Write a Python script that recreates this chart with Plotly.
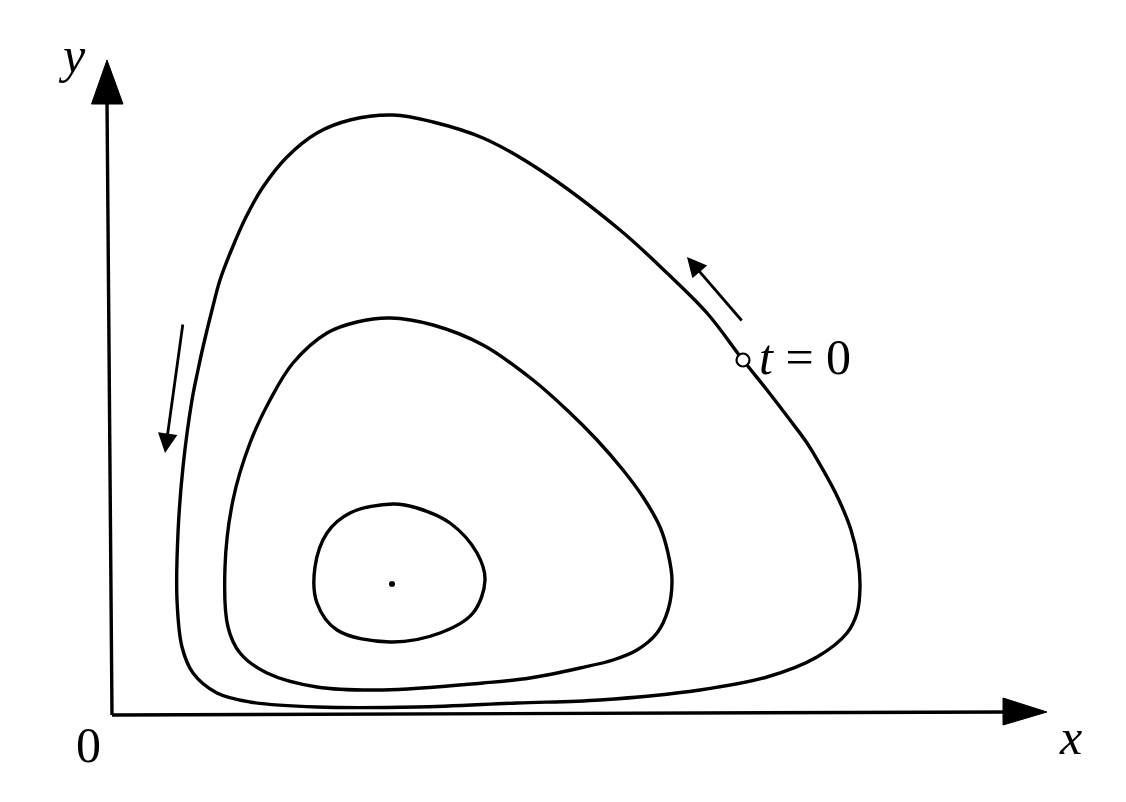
import plotly.graph_objects as go

# closed orbits (x, y in axis units, origin at 0)
outer_x = [3.05, 4.05, 4.88, 5.88, 6.55, 7.05, 7.35, 7.45, 7.48, 7.46, 7.39, 7.26, 7.10,
           6.95, 6.78, 6.55, 6.31, 5.95, 5.55, 5.08, 4.28, 3.71, 3.21, 2.81, 2.38, 2.05,
           1.75, 1.51, 1.34, 1.19, 1.08, 1.00, 0.91, 0.86, 0.80, 0.71, 0.66, 0.65, 0.70,
           0.81, 1.05, 1.38, 2.05, 3.05]
outer_y = [0.08, 0.12, 0.15, 0.25, 0.38, 0.58, 0.82, 1.02, 1.28, 1.55, 1.85, 2.17, 2.47,
           2.72, 2.95, 3.25, 3.55, 4.02, 4.42, 4.85, 5.45, 5.77, 5.93, 6.00, 5.95, 5.82,
           5.58, 5.28, 4.98, 4.64, 4.35, 4.05, 3.68, 3.45, 3.15, 2.48, 1.82, 1.15, 0.68,
           0.42, 0.22, 0.13, 0.08, 0.08]

middle_x = [2.71, 3.71, 4.18, 4.68, 5.01, 5.25, 5.45, 5.56, 5.60, 5.56, 5.48, 5.31, 5.11,
            4.85, 4.55, 4.21, 3.71, 3.21, 2.78, 2.45, 2.15, 1.81, 1.58, 1.38, 1.21, 1.13,
            1.16, 1.28, 1.55, 2.05, 2.71]
middle_y = [0.25, 0.32, 0.37, 0.47, 0.55, 0.65, 0.82, 1.05, 1.35, 1.62, 1.88, 2.18, 2.45,
            2.75, 3.05, 3.35, 3.70, 3.90, 3.97, 3.93, 3.82, 3.52, 3.15, 2.72, 2.15, 1.48,
            0.88, 0.62, 0.42, 0.28, 0.25]

inner_x = [2.78, 3.28, 3.61, 3.73, 3.65, 3.38, 3.05, 2.81, 2.38, 2.15, 2.03, 2.05, 2.25, 2.78]
inner_y = [0.73, 0.82, 1.02, 1.35, 1.62, 1.92, 2.07, 2.11, 2.02, 1.82, 1.48, 1.12, 0.85, 0.73]

equilibrium = (2.80, 1.31)
start_point = (6.31, 3.55)

# direction arrows: (tail, head)
flow_arrows = [((6.31, 3.93), (5.75, 4.58)),
               ((0.71, 3.92), (0.53, 2.62))]

x_axis_end = (9.35, 0.03)
y_axis_end = (-0.05, 6.55)

serif = "Liberation Serif, Times New Roman, serif"
black = "black"

fig = go.Figure()

for xs, ys in [(outer_x, outer_y), (middle_x, middle_y), (inner_x, inner_y)]:
    fig.add_trace(go.Scatter(x=xs, y=ys, mode="lines",
                             line=dict(color=black, width=3.4, shape="spline", smoothing=1.0),
                             hoverinfo="skip"))

# axes lines
fig.add_trace(go.Scatter(x=[0, x_axis_end[0] - 0.4], y=[0, x_axis_end[1]], mode="lines",
                         line=dict(color=black, width=3.4), hoverinfo="skip"))
fig.add_trace(go.Scatter(x=[0, y_axis_end[0]], y=[0, y_axis_end[1] - 0.4], mode="lines",
                         line=dict(color=black, width=3.4), hoverinfo="skip"))

# big filled arrowheads on the axes
hx, hy = x_axis_end
fig.add_trace(go.Scatter(x=[hx, hx - 0.44, hx - 0.44, hx], y=[hy, hy + 0.14, hy - 0.13, hy],
                         mode="lines", fill="toself", fillcolor=black,
                         line=dict(color=black, width=1), hoverinfo="skip"))
vx, vy = y_axis_end
fig.add_trace(go.Scatter(x=[vx, vx - 0.155, vx + 0.16, vx], y=[vy, vy - 0.44, vy - 0.44, vy],
                         mode="lines", fill="toself", fillcolor=black,
                         line=dict(color=black, width=1), hoverinfo="skip"))

# equilibrium dot and t=0 marker
fig.add_trace(go.Scatter(x=[equilibrium[0]], y=[equilibrium[1]], mode="markers",
                         marker=dict(color=black, size=6), hoverinfo="skip"))
fig.add_trace(go.Scatter(x=[start_point[0]], y=[start_point[1]], mode="markers",
                         marker=dict(color="white", size=13, line=dict(color=black, width=2.2)),
                         hoverinfo="skip"))

annotations = []
for (tx, ty), (ax_, ay_) in flow_arrows:
    annotations.append(dict(x=ax_, y=ay_, ax=tx, ay=ty, xref="x", yref="y",
                            axref="x", ayref="y", showarrow=True, text="",
                            arrowhead=2, arrowsize=1.4, arrowwidth=2.8, arrowcolor=black))

annotations += [
    dict(x=-0.40, y=6.60, text="<i>y</i>", showarrow=False, font=dict(family=serif, size=50)),
    dict(x=9.58, y=-0.22, text="<i>x</i>", showarrow=False, font=dict(family=serif, size=50)),
    dict(x=-0.24, y=-0.30, text="0", showarrow=False, font=dict(family=serif, size=50)),
    dict(x=start_point[0] + 0.14, y=start_point[1] + 0.03, text="<i>t</i> = 0",
         showarrow=False, xanchor="left", font=dict(family=serif, size=50)),
]

# ranges nudged by 8px to offset the page's default body margin
fig.update_layout(
    width=1126, height=802,
    margin=dict(l=0, r=0, t=0, b=0),
    paper_bgcolor="white", plot_bgcolor="white",
    showlegend=False,
    xaxis=dict(range=[-1.04, 10.22], visible=False, fixedrange=True),
    yaxis=dict(range=[-0.95, 7.07], visible=False, fixedrange=True),
    annotations=annotations,
    font=dict(family=serif, color=black),
)

fig.write_html("out.html")
